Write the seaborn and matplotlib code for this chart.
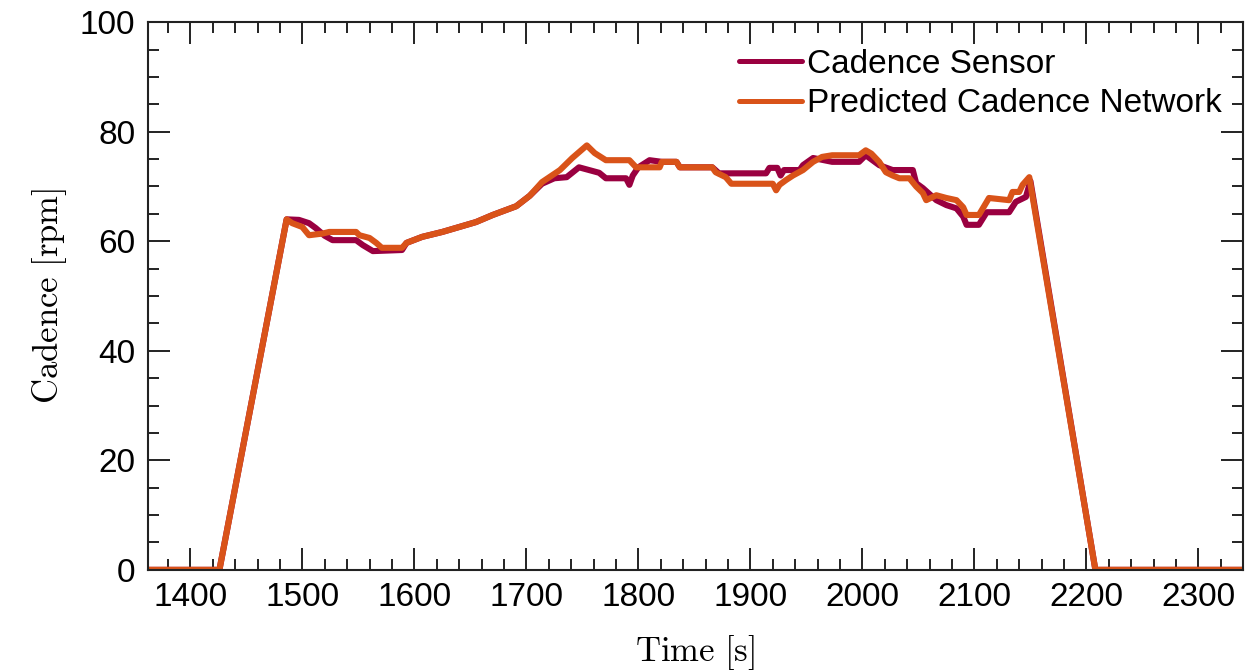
import matplotlib
matplotlib.use("Agg")
import matplotlib.pyplot as plt
import seaborn as sns
import pandas as pd
from matplotlib.ticker import MultipleLocator

# ---- data ----
sensor_t = [1360, 1426, 1486, 1497, 1506, 1512, 1520, 1527, 1548, 1554, 1563, 1589, 1593,
            1607, 1625, 1640, 1655, 1670, 1691, 1703, 1714, 1725, 1736, 1747, 1756, 1765,
            1771, 1789, 1792, 1795, 1800, 1810, 1821, 1834, 1837, 1866, 1872, 1914, 1917,
            1924, 1927, 1930, 1944, 1947, 1956, 1973, 1997, 2003, 2015, 2027, 2045, 2048,
            2054, 2066, 2075, 2084, 2090, 2093, 2104, 2111, 2131, 2137, 2146, 2150, 2208, 2340]
sensor_v = [0, 0, 64, 63.9, 63.3, 62.4, 61.0, 60.2, 60.2, 59.3, 58.2, 58.4, 59.7,
            60.8, 61.7, 62.6, 63.5, 64.8, 66.4, 68.3, 70.5, 71.5, 71.7, 73.5, 73.0, 72.5,
            71.5, 71.5, 70.3, 72.0, 73.5, 74.8, 74.5, 74.5, 73.5, 73.5, 72.4, 72.4, 73.4,
            73.4, 72.0, 73.0, 73.0, 73.9, 75.2, 74.5, 74.5, 75.7, 73.9, 73.0, 73.0, 70.6,
            69.7, 67.5, 66.6, 66.0, 64.5, 63.0, 63.0, 65.3, 65.3, 67.2, 68.1, 71.0, 0, 0]

pred_t = [1360, 1426, 1486, 1491, 1500, 1506, 1518, 1524, 1548, 1551, 1560, 1566, 1571,
          1589, 1593, 1607, 1625, 1640, 1655, 1670, 1691, 1703, 1714, 1730, 1741, 1754,
          1761, 1771, 1792, 1798, 1819, 1821, 1834, 1837, 1866, 1869, 1878, 1883, 1920,
          1923, 1926, 1932, 1938, 1947, 1956, 1964, 1973, 1997, 2003, 2008, 2015, 2021,
          2027, 2033, 2042, 2048, 2054, 2057, 2066, 2075, 2084, 2090, 2093, 2104, 2111,
          2113, 2131, 2134, 2140, 2143, 2149, 2208, 2340]
pred_v = [0, 0, 64, 63.3, 62.6, 61.1, 61.4, 61.7, 61.7, 61.1, 60.6, 59.7, 58.8,
          58.8, 59.7, 60.8, 61.7, 62.6, 63.5, 64.8, 66.4, 68.3, 70.8, 73.0, 75.2, 77.5,
          76.1, 74.8, 74.8, 73.5, 73.5, 74.5, 74.5, 73.5, 73.5, 72.6, 71.7, 70.5, 70.5,
          69.3, 70.3, 71.2, 72.0, 73.0, 74.5, 75.4, 75.7, 75.7, 76.6, 76.0, 74.5, 72.6,
          72.0, 71.5, 71.5, 70.0, 68.8, 67.5, 68.4, 67.9, 67.5, 66.2, 64.8, 64.8, 67.2,
          67.9, 67.5, 69.0, 69.0, 70.3, 71.7, 0, 0]

series_names = ["Cadence Sensor", "Predicted Cadence Network"]
series_colors = ["#9A0040", "#D95319"]

x_ticks = [1400, 1500, 1600, 1700, 1800, 1900, 2000, 2100, 2200, 2300]
y_ticks = [0, 20, 40, 60, 80, 100]

df = pd.concat([
    pd.DataFrame({"t": sensor_t, "v": sensor_v, "s": series_names[0]}),
    pd.DataFrame({"t": pred_t, "v": pred_v, "s": series_names[1]}),
], ignore_index=True)

sns.set_style("ticks")
plt.rcParams["font.family"] = ["Liberation Sans", "DejaVu Sans"]
plt.rcParams["mathtext.fontset"] = "cm"
plt.rcParams["text.color"] = "#000000"

fig = plt.figure(figsize=(12.52, 6.72), dpi=100)
ax = fig.add_axes([0.118, 0.152, 0.875, 0.815])

sns.lineplot(data=df, x="t", y="v", hue="s", hue_order=series_names,
             palette=series_colors, linewidth=4.4, sort=False,
             estimator=None, ax=ax)

ax.set_xlim(1362, 2340)
ax.set_ylim(0, 100)
ax.set_xticks(x_ticks)
ax.set_yticks(y_ticks)
ax.xaxis.set_minor_locator(MultipleLocator(20))
ax.yaxis.set_minor_locator(MultipleLocator(5))
ax.tick_params(which="both", direction="in", top=True, right=True,
               width=1.4, colors="#222222", labelcolor="#000000")
ax.tick_params(which="major", length=15.5, labelsize=24, pad=9)
ax.tick_params(which="minor", length=8)
for sp in ax.spines.values():
    sp.set_linewidth(1.5)
    sp.set_color("#222222")

ax.set_xlabel(r"$\mathrm{Time\ [s]}$", fontsize=25, labelpad=14, color="#000000")
ax.set_ylabel(r"$\mathrm{Cadence\ [rpm]}$", fontsize=25, labelpad=8, color="#000000")

leg = ax.legend(loc="upper right", bbox_to_anchor=(1.005, 1.0), frameon=False,
                fontsize=24, handlelength=1.9, handletextpad=0.15,
                labelspacing=0.25, borderaxespad=0.4)
for line in leg.get_lines():
    line.set_linewidth(3.6)
for txt in leg.get_texts():
    txt.set_color("#000000")

fig.savefig("out.png", dpi=100)
